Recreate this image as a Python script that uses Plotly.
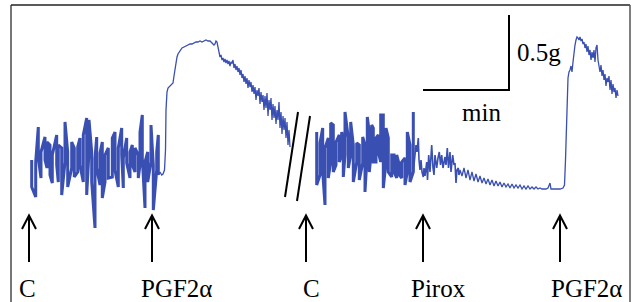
import plotly.graph_objects as go

# ---- data (chart units: x = time position, y = trace level) ----
# control period 1: contraction bars (time, upper, lower)
c1_t = [31.7, 35.7, 38.3, 41, 45, 47, 50, 52.3, 56.7, 58.3, 61.7, 65, 67.7, 71.7, 74.3,
        77.7, 80, 83.3, 86.7, 89, 91.7, 95, 96.7, 100, 102.3, 105, 108.3, 112.3, 115, 118.3,
        121.7, 123.3, 126.7, 130, 132.3, 135, 138.3, 140, 142.3, 145, 147.7, 151, 153.3, 156.7, 158.3]
c1_hi = [160, 162, 127, 152, 137, 142, 145, 155, 135, 145, 148, 122, 152, 142, 148,
         147, 138, 135, 118, 120, 152, 158, 137, 153, 142, 155, 148, 138, 132, 148,
         128, 158, 138, 152, 145, 148, 155, 132, 115, 162, 152, 125, 165, 152, 135]
c1_lo = [187, 197, 158, 178, 160, 168, 175, 183, 165, 182, 195, 162, 187, 168, 177,
         172, 165, 182, 195, 152, 182, 228, 168, 185, 198, 182, 178, 177, 170, 187,
         155, 188, 163, 178, 165, 172, 178, 165, 158, 208, 182, 162, 210, 170, 175]

# PGF2a response, first record
r1_t = [158.3, 160, 161.7, 163, 164.5, 165.5, 166, 167, 168, 170, 172, 173, 174, 175, 176, 177, 178,
        180, 182, 184, 186, 188, 190, 192, 194, 196, 198, 200, 202, 204, 206, 208, 210, 212, 214,
        215, 216, 217, 218, 219, 220, 221, 222, 223, 224, 225, 226, 227, 228, 229, 230, 231, 232,
        233, 234, 235, 236, 237, 238, 239, 240, 241, 242, 243, 244, 245, 246, 247, 248, 249, 250,
        251, 252, 253, 254, 255, 256, 257, 258, 259, 260, 261, 262, 263, 264, 265, 266, 267, 268,
        269, 270, 271, 272, 273, 274, 275, 276, 277, 278, 279, 280, 281, 282, 283, 284, 285, 286,
        287, 288, 289, 290]
r1_v = [175, 172, 175, 174, 170, 150, 110, 92, 88, 86, 85, 83, 76, 68, 62, 57, 54,
        51, 48, 47, 46, 45, 44, 44, 43, 42, 42, 41, 42, 41, 40, 41, 41, 43, 45,
        44, 41, 42, 48, 52, 57, 55, 60, 58, 62, 59, 63, 60, 64, 61, 66, 62, 63,
        60, 68, 64, 70, 66, 72, 68, 75, 70, 78, 74, 82, 76, 84, 78, 88, 80, 87,
        82, 92, 85, 94, 87, 100, 90, 96, 88, 104, 92, 102, 95, 110, 96, 108, 93, 116,
        100, 110, 98, 120, 104, 118, 106, 124, 110, 120, 102, 128, 112, 134, 116, 130, 118, 138,
        122, 145, 130, 147]

# control period 2 (after break): contraction bars
c2_t = [316.7, 320, 322.7, 325, 328.3, 330.7, 333.3, 336, 339.3, 341.7, 343.3, 345, 348.3,
        350.7, 353.3, 356.7, 359.3, 362.7, 365, 367.3, 369.3, 371.7, 373.3, 376, 378.3, 380.7,
        383.3, 386, 388.3, 391.7, 394, 396.7, 399.3, 401.7, 405, 407.3, 410, 413.3]
c2_hi = [132, 143, 128, 148, 138, 123, 125, 142, 135, 132, 142, 112, 138,
         122, 145, 143, 145, 137, 145, 117, 132, 125, 128, 138, 135, 115,
         115, 128, 138, 155, 155, 155, 165, 162, 158, 132, 145, 112]
c2_lo = [185, 175, 172, 205, 178, 162, 172, 165, 162, 155, 177, 155, 168,
         155, 182, 162, 180, 163, 192, 152, 172, 148, 162, 162, 152, 162,
         188, 162, 172, 177, 172, 178, 175, 178, 185, 172, 182, 172]

# piroxicam period
p_t = [413.3, 415, 416, 417, 418.3, 419, 420, 421, 422, 423.3, 424, 425, 426.7, 427.5, 428.7,
       430, 431.7, 433, 434, 435, 436.7, 438, 439.3, 440.5, 441.7, 443, 445, 446, 447.3, 448.5,
       450, 451, 452.7, 454, 455, 456, 457, 458.3, 459]
p_v = [172, 150, 145, 152, 138, 160, 170, 160, 172, 177, 168, 176, 162, 180, 155,
       172, 145, 168, 175, 155, 168, 158, 152, 165, 155, 168, 157, 165, 148, 168,
       152, 172, 155, 165, 163, 183, 170, 168, 175]

# late piroxicam + second PGF2a
r2_t = [459, 460, 462, 464, 466, 468, 470, 472, 474, 476, 478, 480, 482, 484, 486, 488, 490, 492,
        494, 496, 498, 500, 502, 504, 506, 508, 510, 512, 514, 516, 518, 520, 522, 524, 526, 528,
        530, 532, 534, 536, 538, 540, 542, 544, 546, 548, 550, 551, 553, 556, 560, 563, 564.5,
        565.5, 566.5, 567.5, 568, 569, 570, 571, 572, 573, 574, 575, 576, 577, 578, 579, 580, 581,
        582, 583, 584, 585, 586, 587, 588, 589, 590, 591, 592, 593, 594, 595, 596, 597, 598, 599,
        600, 601, 602, 603, 604, 605, 606, 607, 608, 609, 610, 611, 612, 613, 614, 615, 616, 617, 618]
r2_v = [175, 170, 176, 168, 178, 170, 180, 172, 181, 174, 182, 176, 183, 178, 184, 179, 185, 180,
        186, 181, 186, 182, 187, 183, 187, 184, 188, 184, 188, 185, 188, 185, 189, 186, 189, 186,
        189, 187, 189, 187, 189, 188, 189, 189, 189, 188, 183, 189, 189, 189, 189, 188, 185,
        160, 120, 90, 78, 72, 70, 66, 72, 62, 52, 45, 40, 37, 38, 40, 37, 41,
        39, 44, 42, 48, 44, 52, 46, 55, 50, 60, 52, 58, 50, 62, 48, 45, 60, 66,
        72, 65, 76, 70, 80, 74, 86, 78, 82, 76, 90, 80, 94, 84, 92, 88, 98, 90, 96]

# event markers and labels
event_x = [29, 152, 306, 423, 560]
event_labels = ["C", "PGF2α", "C", "Pirox", "PGF2α"]
label_x = [27, 176, 311, 438, 586]

TRACE = "#3A4FB2"
SERIF = "Liberation Serif"


def bars_to_line(t, hi, lo):
    xs, ys = [], []
    for i, (tt, h, l) in enumerate(zip(t, hi, lo)):
        pair = (h, l) if i % 2 == 0 else (l, h)
        xs += [tt, tt]
        ys += list(pair)
    return xs, ys


fig = go.Figure()
x1, y1 = bars_to_line(c1_t, c1_hi, c1_lo)
x2, y2 = bars_to_line(c2_t, c2_hi, c2_lo)
for xs, ys, w in [(x1, y1, 3.0), (r1_t, r1_v, 1.3), (x2, y2, 3.0), (p_t, p_v, 1.6), (r2_t, r2_v, 1.3)]:
    fig.add_trace(go.Scatter(x=xs, y=ys, mode="lines", line=dict(color=TRACE, width=w),
                             hoverinfo="skip", showlegend=False))

shapes = []
# frame
shapes.append(dict(type="line", x0=11, x1=11, y0=5, y1=302, line=dict(color="#777777", width=2)))
shapes.append(dict(type="line", x0=11, x1=630, y0=5, y1=5, line=dict(color="#222222", width=1.5)))
shapes.append(dict(type="line", x0=630, x1=630, y0=5, y1=302, line=dict(color="#555555", width=1.5)))
# scale bar
shapes.append(dict(type="path", path="M 423,90 L 509,90 L 509,15", line=dict(color="black", width=2)))
# break marks
shapes.append(dict(type="line", x0=285, y0=197, x1=298, y1=112, line=dict(color="black", width=2)))
shapes.append(dict(type="line", x0=297, y0=201, x1=310, y1=116, line=dict(color="black", width=2)))
# event arrows
for ex in event_x:
    shapes.append(dict(type="path",
                       path=f"M {ex},262 L {ex},216 M {ex-7},229 L {ex},215.5 L {ex+7},229",
                       line=dict(color="black", width=2)))
for s in shapes:
    s["xref"] = "x"
    s["yref"] = "y"

annotations = []
for lx, lab in zip(label_x, event_labels):
    annotations.append(dict(x=lx, y=288, text=lab, showarrow=False, xref="x", yref="y",
                            xanchor="center", yanchor="middle",
                            font=dict(family=SERIF, size=25, color="black")))
annotations.append(dict(x=515, y=52, text="0.5g", showarrow=False, xref="x", yref="y",
                        xanchor="left", yanchor="middle",
                        font=dict(family=SERIF, size=25, color="black")))
annotations.append(dict(x=481, y=112, text="min", showarrow=False, xref="x", yref="y",
                        xanchor="center", yanchor="middle",
                        font=dict(family=SERIF, size=25, color="black")))

fig.update_layout(
    width=632, height=302,
    margin=dict(l=0, r=0, t=0, b=0),
    paper_bgcolor="white", plot_bgcolor="white",
    font=dict(family=SERIF),
    xaxis=dict(range=[0, 632], visible=False, fixedrange=True),
    yaxis=dict(range=[302, 0], visible=False, fixedrange=True),
    shapes=shapes, annotations=annotations,
)
fig.write_html(
    "out.html",
    config={"displayModeBar": False},
    post_script="document.body.style.margin='0';document.body.style.overflow='hidden';",
)
